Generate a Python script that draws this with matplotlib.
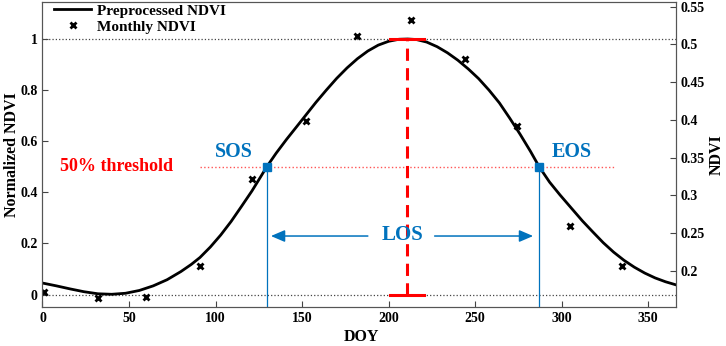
import numpy as np
import matplotlib
matplotlib.use('Agg')
import matplotlib.pyplot as plt

plt.rcParams['font.family'] = ['Liberation Serif', 'DejaVu Serif']
plt.rcParams['font.weight'] = 'bold'

# 平滑后的归一化 NDVI 曲线
doy_curve = [0, 8, 16, 24, 32, 40, 48, 56, 64, 72, 80, 86, 91, 97, 103, 109, 115,
             121, 126, 129.6, 135, 141, 147, 152.5, 158, 164, 170, 176, 182, 188,
             194, 200, 206, 211, 216, 222, 228, 234, 240, 246, 252, 258, 264, 270,
             276, 282, 287, 293, 299, 306, 312, 318, 324, 330, 336, 342, 348, 354,
             360, 366]
ndvi_curve = [0.045, 0.034, 0.022, 0.011, 0.003, 0.001, 0.005, 0.016, 0.034, 0.058,
              0.09, 0.118, 0.145, 0.186, 0.233, 0.286, 0.345, 0.405, 0.46, 0.5,
              0.553, 0.607, 0.658, 0.705, 0.752, 0.8, 0.846, 0.887, 0.923, 0.953,
              0.976, 0.991, 0.999, 1.0, 0.998, 0.988, 0.97, 0.946, 0.917, 0.883,
              0.845, 0.8, 0.75, 0.69, 0.627, 0.56, 0.5, 0.44, 0.39, 0.335, 0.288,
              0.245, 0.203, 0.166, 0.134, 0.107, 0.084, 0.065, 0.05, 0.038]

# 月度 NDVI 点
doy_month = [1, 32, 60, 91, 121, 152, 182, 213, 244, 274, 305, 335]
ndvi_month = [0.008, -0.012, -0.01, 0.111, 0.451, 0.678, 1.013, 1.073, 0.921, 0.661, 0.268, 0.113]

# 物候参数
sos_doy, eos_doy, peak_doy = 129.6, 287.0, 210.9
threshold = 0.5

xticks = [0, 50, 100, 150, 200, 250, 300, 350]
yticks_left = [0, 0.2, 0.4, 0.6, 0.8, 1]
yticks_left_labels = ['0', '0.2', '0.4', '0.6', '0.8', '1']
yticks_right = [0.2, 0.25, 0.3, 0.35, 0.4, 0.45, 0.5, 0.55]
yticks_right_labels = ['0.2', '0.25', '0.3', '0.35', '0.4', '0.45', '0.5', '0.55']

blue = '#0072BD'
red = '#FF0000'

fig = plt.figure(figsize=(7.26, 3.46), dpi=100)
ax = fig.add_axes([0.0585, 0.1118, 0.8725, 0.8833])

# 参考虚线 0 和 1
ax.plot([0, 366], [0, 0], ':', color='#444444', lw=0.9)
ax.plot([0, 366], [1, 1], ':', color='#444444', lw=0.9)

# 50% 阈值线
ax.plot([91, 330.6], [threshold, threshold], ':', color='#ff5555', lw=1.0)

line, = ax.plot(doy_curve, ndvi_curve, '-', color='k', lw=2.0, label='Preprocessed NDVI')
pts, = ax.plot(doy_month, ndvi_month, 'x', color='k', ms=5, mew=2, label='Monthly NDVI')

# 峰值红线
ax.plot([peak_doy, peak_doy], [0, 1], '--', color=red, lw=2.2, dashes=(4, 2.4))
ax.plot([201, 220.5], [1, 1], '-', color=red, lw=2.2)
ax.plot([201, 220.5], [0, 0], '-', color=red, lw=2.2)

# SOS / EOS
ax.plot([sos_doy, sos_doy], [-0.06, threshold], '-', color=blue, lw=0.9)
ax.plot([eos_doy, eos_doy], [-0.06, threshold], '-', color=blue, lw=0.9)
ax.plot([sos_doy, eos_doy], [threshold, threshold], 's', color=blue, ms=6)

ax.text(110.5, 0.558, 'SOS', color=blue, fontsize=14.5, fontweight='bold', ha='center', va='center')
ax.text(305.8, 0.557, 'EOS', color=blue, fontsize=14.5, fontweight='bold', ha='center', va='center')
ax.text(208.2, 0.232, 'LOS', color=blue, fontsize=15, fontweight='bold', ha='center', va='center')
ax.text(10.1, 0.5, '50% threshold', color=red, fontsize=13, fontweight='bold', ha='left', va='center')

arrow = dict(arrowstyle='-|>,head_length=0.7,head_width=0.3', color=blue, lw=1.1, mutation_scale=12,
             shrinkA=0, shrinkB=0)
ax.annotate('', xy=(132, 0.229), xytext=(188, 0.229), arrowprops=arrow)
ax.annotate('', xy=(283.5, 0.229), xytext=(226.6, 0.229), arrowprops=arrow)

ax.set_xlim(0, 366)
ax.set_ylim(-0.05, 1.146)
ax.set_xticks(xticks)
ax.set_yticks(yticks_left)
ax.set_yticklabels(yticks_left_labels)
ax.tick_params(direction='in', length=4, labelsize=10, color='#444444')
ax.set_xlabel('DOY', fontsize=11.5, fontweight='bold')
ax.set_ylabel('Normalized NDVI', fontsize=11.5, fontweight='bold')
ax.xaxis.set_label_coords(0.504, -0.097)
ax.xaxis.label.set_va('center')
ax.yaxis.set_label_coords(-0.048, 0.5)
ax.yaxis.label.set_va('center')

ax2 = ax.twinx()
ax2.set_ylim(0.1519, 0.5564)
ax2.set_yticks(yticks_right)
ax2.set_yticklabels(yticks_right_labels)
ax2.tick_params(direction='in', length=4, labelsize=10, color='#444444')
ax2.set_ylabel('NDVI', fontsize=11.5, fontweight='bold')
ax2.yaxis.set_label_coords(1.065, 0.5)
ax2.yaxis.label.set_va('center')
ax2.yaxis.label.set_rotation(90)

for a in (ax, ax2):
    for s in a.spines.values():
        s.set_color('#555555')
        s.set_linewidth(0.8)

ax.legend(handles=[line, pts], loc='upper left', bbox_to_anchor=(0.018, 0.992), frameon=False,
          fontsize=11, handlelength=2.45, handletextpad=0.35, borderpad=0, borderaxespad=0,
          labelspacing=0.15)

fig.savefig('out.png', dpi=100)
